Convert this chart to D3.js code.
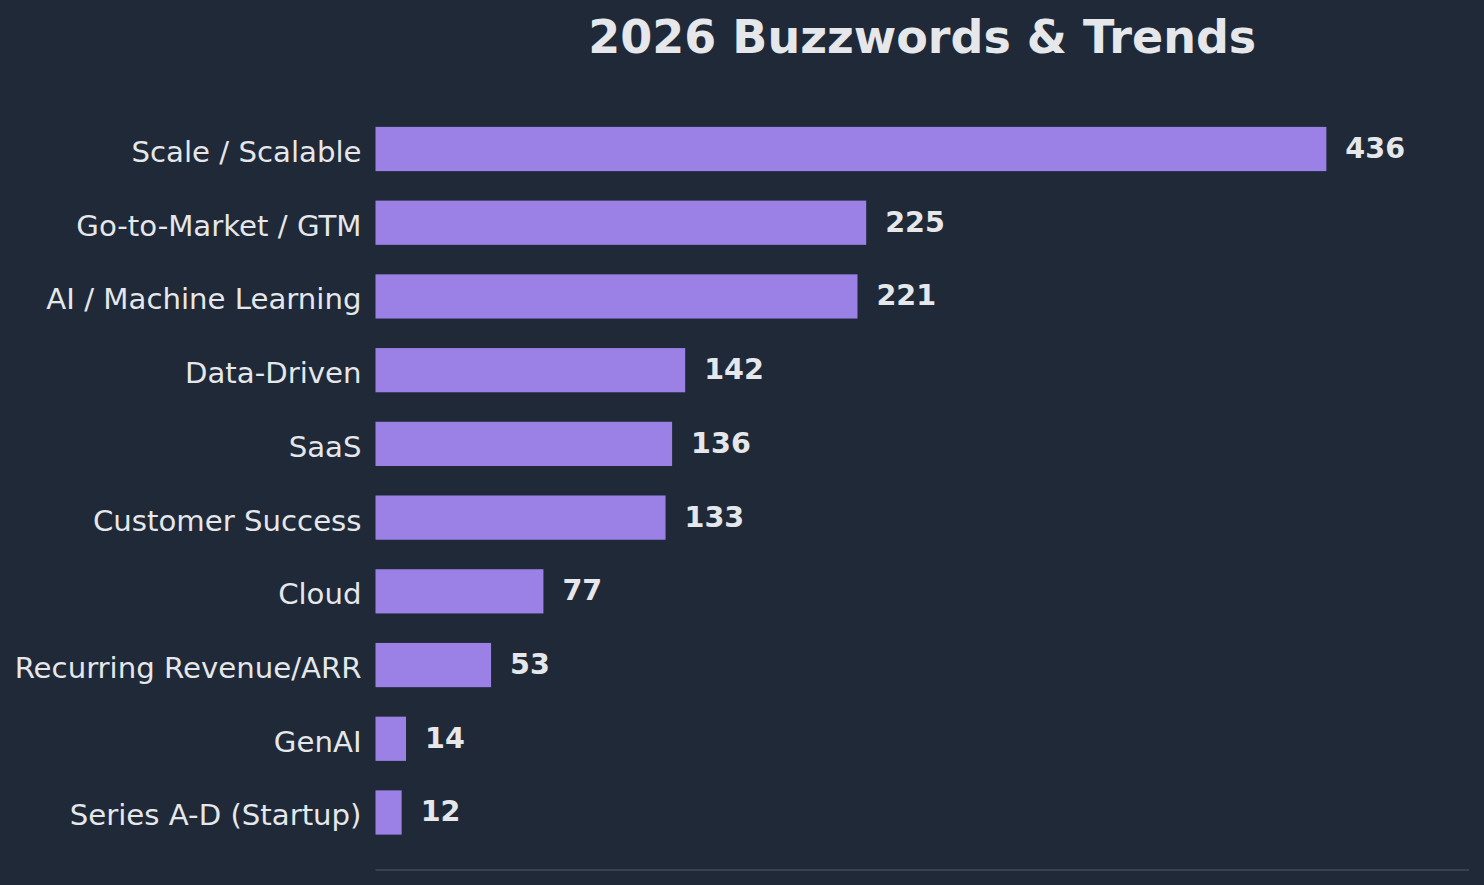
<!DOCTYPE html>
<html><head><meta charset="utf-8">
<script src="https://cdn.jsdelivr.net/npm/d3@7/dist/d3.min.js"></script>
<style>
html,body{margin:0;padding:0;background:#1f2937;}
svg{display:block;}
</style></head>
<body>
<script>
const categories = ["Scale / Scalable","Go-to-Market / GTM","AI / Machine Learning","Data-Driven","SaaS","Customer Success","Cloud","Recurring Revenue/ARR","GenAI","Series A-D (Startup)"];
const values = [436,225,221,142,136,133,77,53,14,12];
const title = "2026 Buzzwords & Trends";

(function(){
const W = 1484, H = 885;
const mLeft = 375.5, mRight = 1469, mTop = 91.5, mBottom = 870;
const svg = d3.select("body").append("svg").attr("width", W).attr("height", H);
svg.append("rect").attr("width", W).attr("height", H).attr("fill", "#1f2937");

const x = d3.scaleLinear().domain([0, d3.max(values) * 1.15]).range([mLeft, mRight]);
const n = categories.length;
const y = d3.scaleLinear().domain([-0.78, n - 1 + 0.78]).range([mTop, mBottom]);
const bh = y(0.6) - y(0);

svg.append("text").attr("x", (mLeft + mRight) / 2).attr("y", 53)
  .attr("text-anchor", "middle").attr("fill", "#e5e7eb")
  .attr("font-family", "DejaVu Sans").attr("font-weight", "bold").attr("font-size", 46)
  .text(title);

svg.append("line").attr("x1", mLeft).attr("x2", mRight).attr("y1", mBottom).attr("y2", mBottom)
  .attr("stroke", "#374151").attr("stroke-width", 2);

const g = svg.selectAll("g.bar").data(categories.map((c, i) => ({c, v: values[i], i})))
  .enter().append("g").attr("class", "bar");
g.append("rect").attr("x", x(0)).attr("y", d => y(d.i) - bh / 2)
  .attr("width", d => x(d.v) - x(0)).attr("height", bh).attr("fill", "#9b81e5");
g.append("text").attr("x", x(0) - 14).attr("y", d => y(d.i) + 13)
  .attr("text-anchor", "end").attr("fill", "#e5e7eb")
  .attr("font-family", "DejaVu Sans").attr("font-size", 29.2)
  .text(d => d.c);
g.append("text").attr("x", d => x(d.v) + 19).attr("y", d => y(d.i) + 9)
  .attr("fill", "#e5e7eb")
  .attr("font-family", "DejaVu Sans").attr("font-weight", "bold").attr("font-size", 28.6)
  .text(d => d.v);
})();
</script>
</body></html>
